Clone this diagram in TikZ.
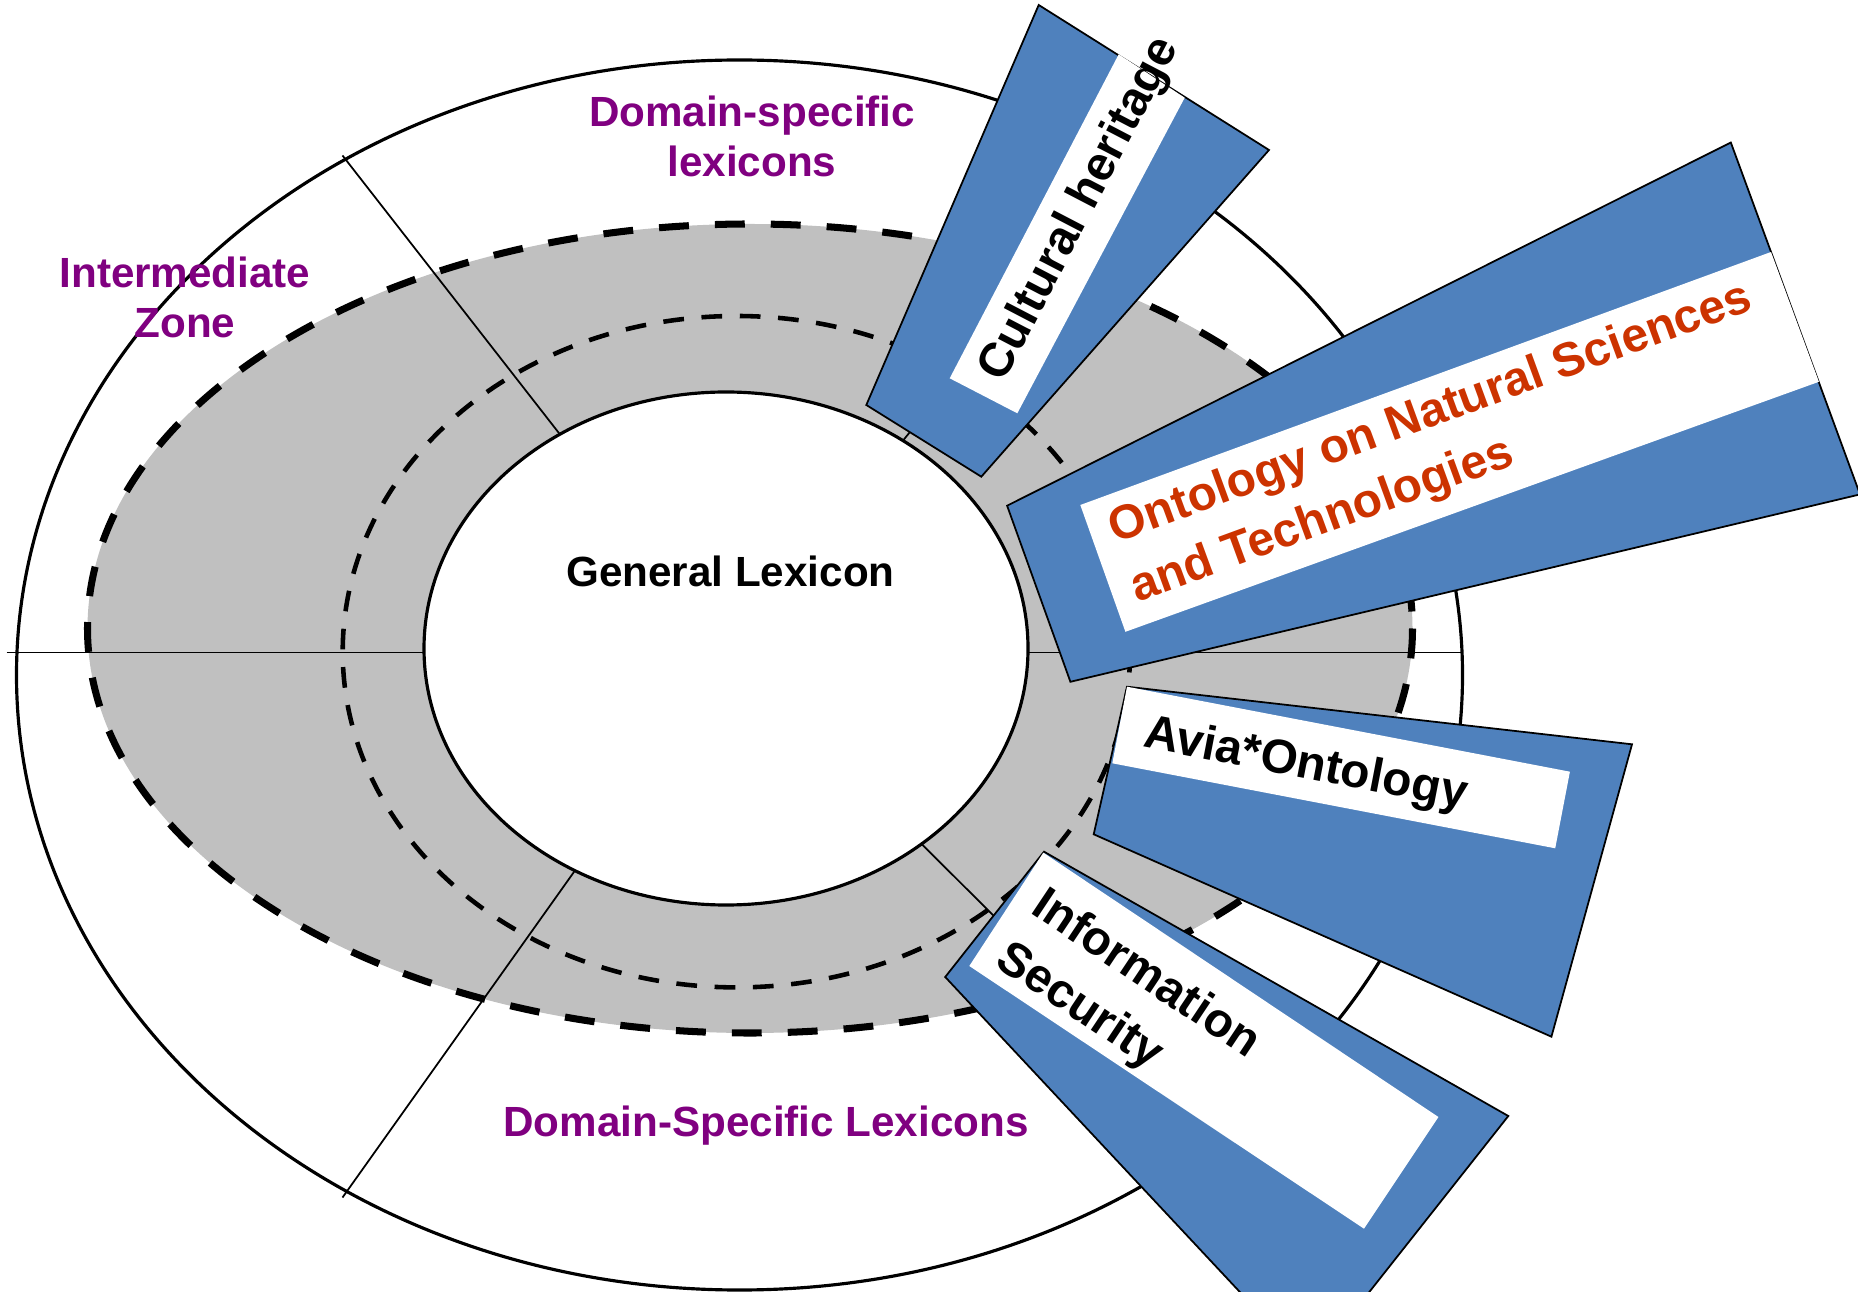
\documentclass[tikz,border=0pt]{standalone}
\usepackage{fontspec}
\setmainfont{Liberation Sans}
\definecolor{BoxBlue}  {HTML}{4F81BD}
\definecolor{RingGray} {HTML}{C0C0C0}
\definecolor{ZonePurple}{HTML}{800080}
\definecolor{OntoRed}  {HTML}{CC3300}

\begin{document}
\begin{tikzpicture}[x=0.01cm, y=-0.01cm,
  zonelabel/.style={text=ZonePurple, font=\bfseries\fontsize{12}{14.4}\selectfont, align=center, inner sep=0pt},
  boxlabel/.style={font=\bfseries\fontsize{13.6}{18}\selectfont, align=left, inner sep=0pt},
  rayline/.style={draw=black, line width=0.5pt},
  wedge/.style={fill=BoxBlue, draw=black, line width=0.5pt},
  slot/.style={fill=white}]
  \useasboundingbox (0,0) rectangle (1858,1292);
  \clip (0,0) rectangle (1858,1292);
  \fill[white] (0,0) rectangle (1858,1292);

  % rings
  \draw[line width=0.9pt] (739.5,675) ellipse [x radius=723, y radius=615];
  \fill[RingGray] (750,628.5) ellipse [x radius=662.5, y radius=404.5];

  % sector lines
  \coordinate (hub)   at (730,652.5);
  \coordinate (wEnd)  at (6.7,652.5);
  \coordinate (eEnd)  at (1462.5,652.5);
  \coordinate (ulEnd) at (342.5,155.5);
  \coordinate (llEnd) at (342.5,1197.5);
  \coordinate (urEnd) at (1132,160);
  \coordinate (lrEnd) at (1220,1142);
  \draw[rayline] (wEnd) -- (eEnd);
  \draw[rayline] (hub) -- (ulEnd);
  \draw[rayline] (hub) -- (llEnd);
  \draw[rayline] (hub) -- (urEnd);
  \draw[rayline] (hub) -- (lrEnd);

  \draw[line width=2pt, dash pattern=on 8.5pt off 7.4pt] (750,628.5) ellipse [x radius=662.5, y radius=404.5];
  \draw[line width=1.3pt, dash pattern=on 5.9pt off 5pt] (736.4,651.7) ellipse [x radius=393.7, y radius=335.7];
  \filldraw[fill=white, line width=0.9pt] (726,648.5) ellipse [x radius=302, y radius=256.5];

  % zone labels
  \node[zonelabel] (dsTop) at (752,136.4) {Domain-specific\\lexicons};
  \node[zonelabel] (midZone) at (185,297.5) {Intermediate\\Zone};
  \node[zonelabel, anchor=base] (dsBottom) at (766,1136) {Domain-Specific Lexicons};
  \node[font=\bfseries\fontsize{12}{14.4}\selectfont, inner sep=0pt, anchor=base] (general) at (730.5,587) {General Lexicon};

  % ontology wedges
  \draw[wedge] (866.3,405) -- (1038.7,5) -- (1269,150) -- (981.3,476.7) -- cycle;
  \fill[slot] (949.7,378.3) -- (1118.7,54.3) -- (1184.7,97.7) -- (1017.3,413.3) -- cycle;
  \node[boxlabel, rotate=62.5] (culture) at (1080.5,209.5) {Cultural heritage};

  \draw[wedge] (1007.1,505.7) -- (1730.8,142.5) -- (1860,494.4) -- (1070.4,681.8) -- cycle;
  \fill[slot] (1080.3,505) -- (1771,252) -- (1818.9,381.8) -- (1125.4,631.8) -- cycle;
  \node[boxlabel, text=OntoRed, rotate=20.1, anchor=west] (natsci) at (1121.7,561.5) {Ontology on Natural Sciences\\and Technologies};

  \draw[wedge] (1127,686.7) -- (1632,744.3) -- (1551.4,1036.7) -- (1093.7,834.3) -- cycle;
  \fill[slot] (1127,686.7) -- (1569.9,771.7) -- (1555.2,848.3) -- (1112.3,763.3) -- cycle;
  \node[boxlabel, rotate=-10.9, anchor=base west] (avia) at (1141.7,746.7) {Avia*Ontology};

  \draw[wedge] (1044,851.7) -- (1508.3,1116) -- (1310,1367) -- (945.2,977) -- cycle;
  \fill[slot] (1043.3,852.7) -- (1438.4,1117) -- (1364,1228.7) -- (969.3,966) -- cycle;
  \node[boxlabel, rotate=-33.7, anchor=west] (infosec) at (1017.7,928.2) {Information\\Security};
\end{tikzpicture}
\end{document}
